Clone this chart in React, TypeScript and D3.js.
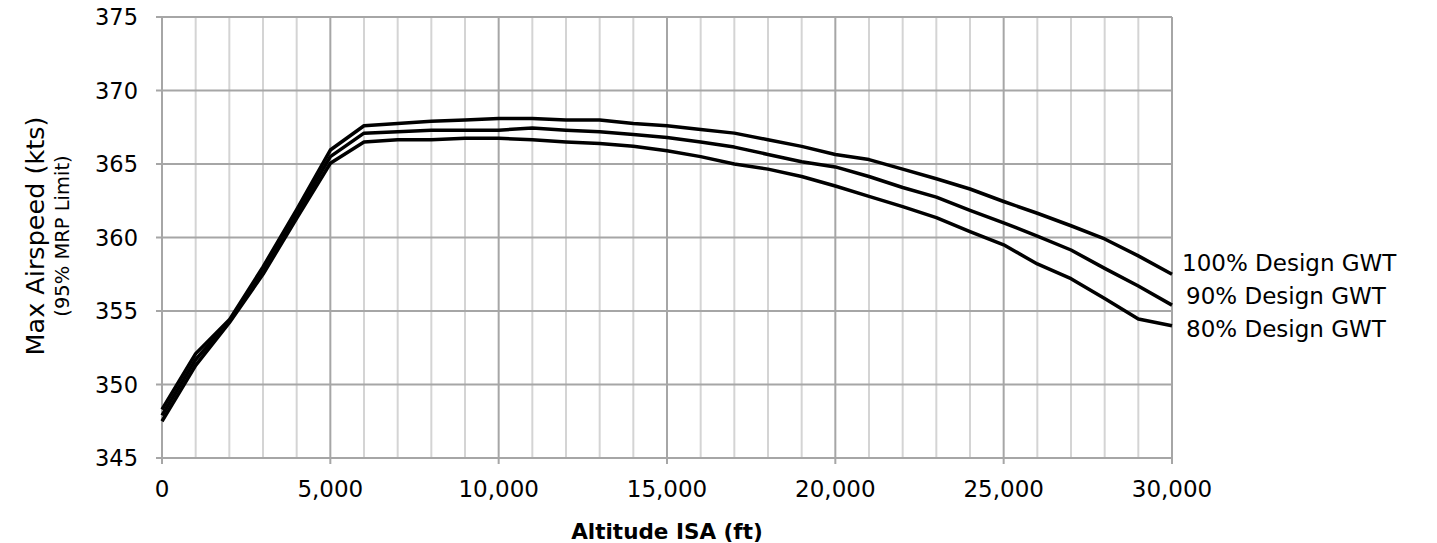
import React from 'react'
import * as d3 from 'd3'

// altitude (ft) and max airspeed (kts) per design gross weight
const altitudes = [0, 1000, 2000, 3000, 4000, 5000, 6000, 7000, 8000, 9000, 10000, 11000, 12000, 13000, 14000, 15000,
  16000, 17000, 18000, 19000, 20000, 21000, 22000, 23000, 24000, 25000, 26000, 27000, 28000, 29000, 30000]
const gwt100 = [348.3, 352.1, 354.4, 358.0, 361.9, 365.95, 367.6, 367.75, 367.9, 368.0, 368.1, 368.1, 368.0, 368.0, 367.75, 367.6,
  367.35, 367.1, 366.65, 366.2, 365.65, 365.3, 364.65, 364.0, 363.3, 362.45, 361.65, 360.8, 359.9, 358.75, 357.5]
const gwt90 = [347.9, 351.7, 354.3, 357.8, 361.6, 365.5, 367.1, 367.2, 367.3, 367.3, 367.3, 367.45, 367.3, 367.2, 367.0, 366.8,
  366.5, 366.15, 365.65, 365.15, 364.8, 364.15, 363.4, 362.75, 361.85, 361.0, 360.1, 359.15, 357.9, 356.7, 355.4]
const gwt80 = [347.5, 351.3, 354.2, 357.5, 361.3, 365.05, 366.5, 366.65, 366.65, 366.75, 366.75, 366.65, 366.5, 366.4, 366.2, 365.9,
  365.5, 365.0, 364.65, 364.15, 363.5, 362.8, 362.1, 361.35, 360.4, 359.5, 358.2, 357.2, 355.85, 354.45, 354.0]
const seriesNames = ['100% Design GWT', '90% Design GWT', '80% Design GWT']
const xTicks = [0, 5000, 10000, 15000, 20000, 25000, 30000]
const yTicks = [345, 350, 355, 360, 365, 370, 375]
const minorX = [1000, 2000, 3000, 4000, 6000, 7000, 8000, 9000, 11000, 12000, 13000, 14000, 16000, 17000, 18000, 19000,
  21000, 22000, 23000, 24000, 26000, 27000, 28000, 29000]

const W = 1437
const H = 543
const m = { left: 162, right: 265, top: 17, bottom: 85 }
const font = '"DejaVu Sans", Verdana, sans-serif'

export default function App() {
  const x = d3.scaleLinear().domain([0, 30000]).range([m.left, W - m.right])
  const y = d3.scaleLinear().domain([345, 375]).range([H - m.bottom, m.top])
  const line = d3.line<number>()
    .x((_, i) => x(altitudes[i]))
    .y(d => y(d))
  const series = [gwt100, gwt90, gwt80]
  // label nudges so the three end labels don't collide
  const labelDy = [-12, -9, 3]
  const labelDx = [10, 14, 14]
  const fmt = d3.format(',')

  return (
    <svg width={W} height={H} style={{ position: 'absolute', left: 0, top: 0, background: '#fff' }} fontFamily={font}>
      {/* minor vertical grid */}
      {minorX.map(v => (
        <line key={'mx' + v} x1={x(v)} x2={x(v)} y1={y(375)} y2={y(345)} stroke="#d4d4d4" strokeWidth={2} />
      ))}
      {/* major vertical grid + ticks */}
      {xTicks.map(v => (
        <line key={'x' + v} x1={x(v)} x2={x(v)} y1={y(375)} y2={y(345) + 6} stroke="#a6a6a6" strokeWidth={2} />
      ))}
      {/* horizontal grid + ticks */}
      {yTicks.map(v => (
        <line key={'y' + v} x1={x(0) - 6} x2={x(30000)} y1={y(v)} y2={y(v)} stroke="#a6a6a6" strokeWidth={2} />
      ))}
      {/* tick labels */}
      {yTicks.map(v => (
        <text key={'yl' + v} x={x(0) - 24} y={y(v)} dy="0.36em" textAnchor="end" fontSize={22.5} fill="#000">{v}</text>
      ))}
      {xTicks.map(v => (
        <text key={'xl' + v} x={x(v)} y={y(345) + 31} dy="0.36em" textAnchor="middle" fontSize={23} fill="#000">{fmt(v)}</text>
      ))}
      {/* series */}
      {series.map((s, i) => (
        <path key={'s' + i} d={line(s) || ''} fill="none" stroke="#000" strokeWidth={3.5} strokeLinejoin="round" />
      ))}
      {series.map((s, i) => (
        <text key={'sl' + i} x={x(30000) + labelDx[i]} y={y(s[s.length - 1]) + labelDy[i]} dy="0.36em"
          fontSize={23} fill="#000">{seriesNames[i]}</text>
      ))}
      {/* axis titles */}
      <text x={(x(0) + x(30000)) / 2} y={531} dy="0.36em" textAnchor="middle" fontSize={21.5} fontWeight="bold" fill="#000">
        Altitude ISA (ft)
      </text>
      <g transform={`translate(35,236) rotate(-90)`}>
        <text x={0} y={0} dy="0.36em" textAnchor="middle" fontSize={25.5} fill="#000">Max Airspeed (kts)</text>
      </g>
      <g transform={`translate(62,236) rotate(-90)`}>
        <text x={0} y={0} dy="0.36em" textAnchor="middle" fontSize={19.5} fill="#000">(95% MRP Limit)</text>
      </g>
    </svg>
  )
}
